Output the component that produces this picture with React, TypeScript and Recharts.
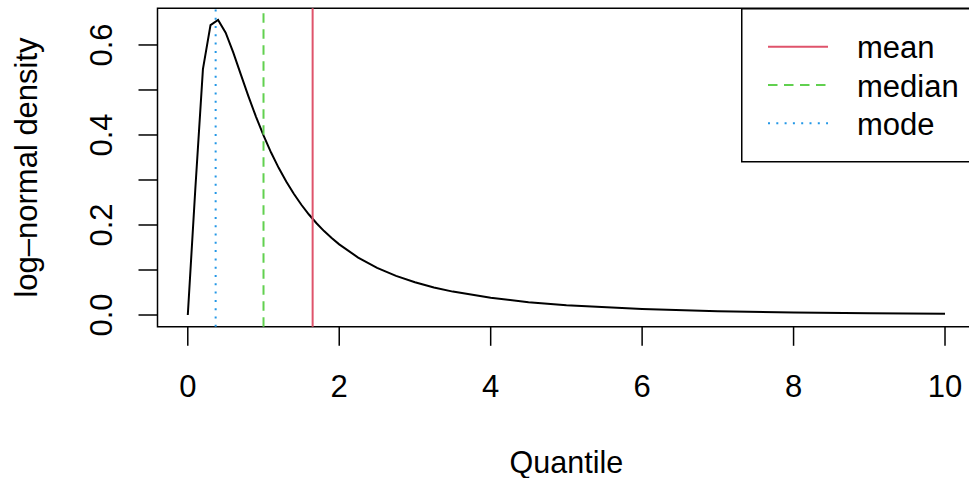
import React from "react";
import { LineChart, Line, XAxis, YAxis, ReferenceLine, ReferenceArea, Legend, Label } from "recharts";

const FONT = "'Liberation Sans', Arial, Helvetica, sans-serif";

// quantiles and log-normal density values
const quantiles = [
  0, 0.1, 0.2, 0.3, 0.4, 0.5, 0.6, 0.7, 0.8, 0.9, 1.0, 1.1, 1.2, 1.3, 1.4, 1.5, 1.6, 1.7, 1.8, 1.9, 2.0,
  2.25, 2.5, 2.75, 3.0, 3.25, 3.5, 4.0, 4.5, 5.0, 6.0, 7.0, 8.0, 9.0, 10.0,
];
const density = [
  0, 0.2816, 0.5463, 0.6442, 0.6555, 0.6274, 0.5836, 0.5348, 0.4864, 0.4408, 0.3989, 0.361, 0.327, 0.2965,
  0.2693, 0.245, 0.2233, 0.2039, 0.1865, 0.1709, 0.1569, 0.1276, 0.1049, 0.087, 0.0727, 0.0613, 0.052, 0.0382,
  0.0286, 0.0218, 0.01335, 0.00858, 0.00574, 0.00397, 0.00282,
];

const markNames = ["mean", "median", "mode"];
const markValues = [1.6487, 1.0, 0.3679];
const markColors = ["#DF536B", "#61D04F", "#2297E6"];
const markDashes = [undefined, "9.5 6.5", "2 6.3"];

const xTicks = [0, 2, 4, 6, 8, 10];
const yTicks = [0, 0.1, 0.2, 0.3, 0.4, 0.5, 0.6];
const yLabelled = [0, 0.2, 0.4, 0.6];

const X_DOMAIN: [number, number] = [-0.4, 10.4];
const Y_DOMAIN: [number, number] = [-0.0262, 0.6817];

const data = quantiles.map((q, i) => ({ q, d: density[i] }));

function XTick({ x, y, payload }: any) {
  return (
    <text x={x} y={y + 49} textAnchor="middle" fontFamily={FONT} fontSize={31} fill="#000">
      {payload.value}
    </text>
  );
}

function YTick({ x, y, payload }: any) {
  const v = payload.value;
  if (!yLabelled.some((t) => Math.abs(t - v) < 1e-9)) return null;
  const bx = x - 24.5;
  return (
    <text
      x={bx}
      y={y}
      transform={`rotate(-90, ${bx}, ${y})`}
      textAnchor="middle"
      fontFamily={FONT}
      fontSize={31}
      fill="#000"
    >
      {v.toFixed(1)}
    </text>
  );
}

function LegendBox() {
  return (
    <svg width={240} height={156} style={{ display: "block" }}>
      <rect x={0.75} y={0.75} width={260} height={153} fill="#fff" stroke="#000" strokeWidth={1.5} />
      {markNames.map((name, i) => {
        const ly = 38.7 + i * 38.3;
        return (
          <g key={name}>
            <line x1={27} x2={87} y1={ly} y2={ly} stroke={markColors[i]} strokeWidth={2} strokeDasharray={markDashes[i]} />
            <text x={116} y={ly + 11.7} fontFamily={FONT} fontSize={31} fill="#000">
              {name}
            </text>
          </g>
        );
      })}
    </svg>
  );
}

export default function App() {
  return (
    <div style={{ position: "absolute", left: 0, top: 0, width: 969, height: 478, overflow: "hidden", background: "#fff" }}>
      <LineChart width={980} height={478} data={data} margin={{ top: 8.2, right: 4.7, left: 0, bottom: 0 }}>
        <XAxis
          dataKey="q"
          type="number"
          domain={X_DOMAIN}
          ticks={xTicks}
          allowDataOverflow
          axisLine={false}
          tickLine={{ stroke: "#000", strokeWidth: 1.5 }}
          tickSize={19}
          tickMargin={2}
          tick={<XTick />}
          height={151.2}
        >
          <Label
            content={({ viewBox }: any) => (
              <text
                x={viewBox.x + viewBox.width / 2}
                y={viewBox.y + 146.5}
                textAnchor="middle"
                fontFamily={FONT}
                fontSize={30.5}
                fill="#000"
              >
                Quantile
              </text>
            )}
          />
        </XAxis>
        <YAxis
          type="number"
          domain={Y_DOMAIN}
          ticks={yTicks}
          allowDataOverflow
          axisLine={false}
          tickLine={{ stroke: "#000", strokeWidth: 1.5 }}
          tickSize={19}
          tickMargin={2}
          tick={<YTick />}
          width={157.5}
        >
          <Label
            content={({ viewBox }: any) => {
              const lx = viewBox.x + 37;
              const ly = viewBox.y + viewBox.height / 2;
              return (
                <text
                  x={lx}
                  y={ly}
                  transform={`rotate(-90, ${lx}, ${ly})`}
                  textAnchor="middle"
                  fontFamily={FONT}
                  fontSize={31}
                  fill="#000"
                >
                  log–normal density
                </text>
              );
            }}
          />
        </YAxis>
        <Line
          type="linear"
          dataKey="d"
          stroke="#000"
          strokeWidth={2}
          dot={false}
          activeDot={false}
          isAnimationActive={false}
        />
        {markValues.map((v, i) => (
          <ReferenceLine
            key={markNames[i]}
            x={v}
            stroke={markColors[i]}
            strokeWidth={2}
            strokeDasharray={markDashes[i]}
          />
        ))}
        <ReferenceArea
          x1={X_DOMAIN[0]}
          x2={X_DOMAIN[1]}
          y1={Y_DOMAIN[0]}
          y2={Y_DOMAIN[1]}
          fill="none"
          fillOpacity={0}
          stroke="#000"
          strokeWidth={1.5}
          ifOverflow="visible"
        />
        <Legend
          layout="horizontal"
          verticalAlign="middle"
          align="center"
          wrapperStyle={{ position: "absolute", left: 740.7, top: 8, width: 240, height: 156 }}
          content={() => <LegendBox />}
        />
      </LineChart>
    </div>
  );
}
